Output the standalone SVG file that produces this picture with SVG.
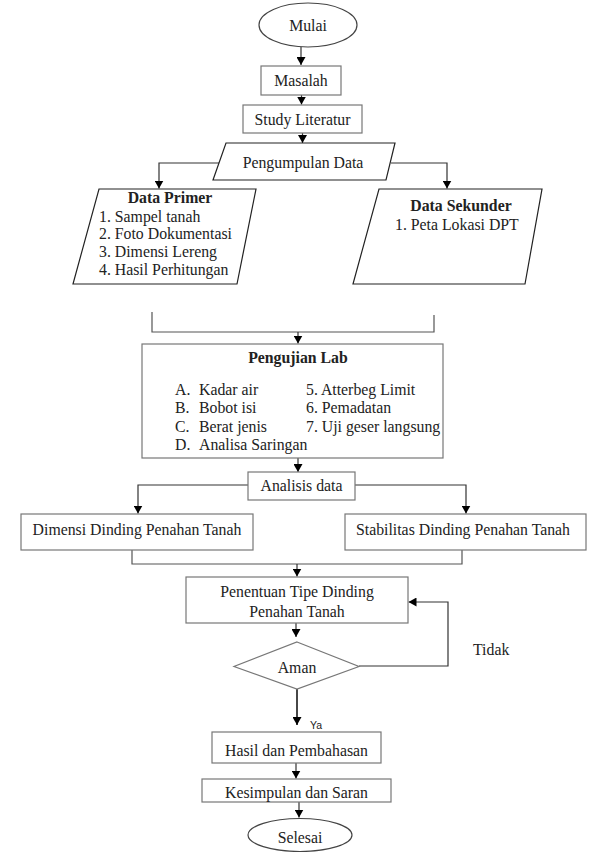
<svg xmlns="http://www.w3.org/2000/svg" width="589" height="852" viewBox="0 0 589 852">
<defs>
<marker id="ah" markerUnits="userSpaceOnUse" markerWidth="8" markerHeight="9" refX="8" refY="4.5" orient="auto">
<path d="M0,0 L8,4.5 L0,9 z" fill="#000"/>
</marker>
<style>
.box{fill:#fff;stroke:#777;stroke-width:1.2}
.par{fill:#fff;stroke:#222;stroke-width:1.2}
.ell{fill:#fff;stroke:#444;stroke-width:1.2}
.t{font-family:"Liberation Serif","Times New Roman",serif;font-size:15.8px;fill:#222}
.c{text-anchor:middle}
.b{font-weight:bold}
.con{fill:none;stroke:#555;stroke-width:1.2}
.arr{fill:none;stroke:#333;stroke-width:1.2;marker-end:url(#ah)}
</style>
</defs>
<rect width="589" height="852" fill="#fff"/>
<g id="connectors">
<line class="arr" x1="301" y1="47" x2="301" y2="65"/>
<line class="arr" x1="301.5" y1="95" x2="301.5" y2="104.5"/>
<line class="arr" x1="302.5" y1="133" x2="302.5" y2="143"/>
<polyline class="arr" points="219,163 159,163 159,188.5"/>
<polyline class="arr" points="391,163 447,163 447,188.5"/>
<polyline class="con" points="152,312 152,332 434,332 434,315"/>
<line class="arr" x1="298" y1="332" x2="298" y2="343.5"/>
<line class="arr" x1="298" y1="458" x2="298" y2="472"/>
<polyline class="arr" points="248,485 138,485 138,513.5"/>
<polyline class="arr" points="355,485 466,485 466,513.5"/>
<polyline class="con" points="132,550 132,564 462,564 462,550"/>
<line class="arr" x1="297" y1="564" x2="297" y2="576.5"/>
<line class="arr" x1="296" y1="623" x2="296" y2="637"/>
<polyline class="arr" points="359,666 448,666 448,602 408.5,602"/>
<line class="arr" x1="297" y1="689" x2="297" y2="725" style="stroke-width:1.8"/>
<line class="arr" x1="296" y1="763" x2="296" y2="778.5"/>
<line class="arr" x1="299" y1="802" x2="299" y2="817.5"/>
<text x="310" y="729" style="font-family:'Liberation Sans',Arial,sans-serif;font-size:10.5px;fill:#222">Ya</text>
<text class="t" x="473" y="655">Tidak</text>
</g>
<g id="mulai">
<ellipse class="ell" cx="308" cy="25" rx="49" ry="22"/>
<text class="t c" x="308" y="31">Mulai</text>
</g>
<g id="masalah">
<rect class="box" x="261" y="66" width="80" height="29"/>
<text class="t c" x="301" y="86">Masalah</text>
</g>
<g id="study">
<rect class="box" x="243" y="105" width="119" height="28"/>
<text class="t c" x="302.5" y="125">Study Literatur</text>
</g>
<g id="pengumpulan">
<polygon class="par" points="226,143 395,143 386,180 213,180"/>
<text class="t c" x="303" y="168">Pengumpulan Data</text>
</g>
<g id="primer">
<polygon class="par" points="99,189 256,189 237,284 73,284"/>
<text class="t c b" x="170" y="203">Data Primer</text>
<text class="t" x="99" y="221.5">1. Sampel tanah</text>
<text class="t" x="99" y="239.3">2. Foto Dokumentasi</text>
<text class="t" x="99" y="257.3">3. Dimensi Lereng</text>
<text class="t" x="99" y="275">4. Hasil Perhitungan</text>
</g>
<g id="sekunder">
<polygon class="par" points="379,189 542,189 525,284 353,284"/>
<text class="t c b" x="461" y="211">Data Sekunder</text>
<text class="t" x="395" y="230">1. Peta Lokasi DPT</text>
</g>
<g id="lab">
<rect class="box" x="142" y="344" width="301" height="114"/>
<text class="t c b" x="298" y="363">Pengujian Lab</text>
<text class="t" x="175" y="395">A.</text><text class="t" x="199" y="395">Kadar air</text>
<text class="t" x="175" y="413.3">B.</text><text class="t" x="199" y="413.3">Bobot isi</text>
<text class="t" x="175" y="431.7">C.</text><text class="t" x="199" y="431.7">Berat jenis</text>
<text class="t" x="175" y="450">D.</text><text class="t" x="199" y="450">Analisa Saringan</text>
<text class="t" x="306" y="395">5. Atterbeg Limit</text>
<text class="t" x="306" y="413.3">6. Pemadatan</text>
<text class="t" x="306" y="431.7">7. Uji geser langsung</text>
</g>
<g id="analisis">
<rect class="box" x="248" y="472" width="107" height="28"/>
<text class="t c" x="301.5" y="491">Analisis data</text>
</g>
<g id="dimensi">
<rect class="box" x="21" y="514" width="232" height="36"/>
<text class="t c" x="137" y="535">Dimensi Dinding Penahan Tanah</text>
</g>
<g id="stabilitas">
<rect class="box" x="345" y="514" width="241" height="36"/>
<text class="t c" x="463" y="535">Stabilitas Dinding Penahan Tanah</text>
</g>
<g id="penentuan">
<rect class="box" x="186" y="577" width="222" height="46"/>
<text class="t c" x="297" y="597">Penentuan Tipe Dinding</text>
<text class="t c" x="297" y="617">Penahan Tanah</text>
</g>
<g id="aman">
<polygon class="box" points="297,642 359,666.5 297,689 234,666.5"/>
<text class="t c" x="297" y="673">Aman</text>
</g>
<g id="hasil">
<rect class="box" x="212" y="732" width="169" height="31"/>
<text class="t c" x="296.5" y="756">Hasil dan Pembahasan</text>
</g>
<g id="kesimpulan">
<rect class="box" x="202" y="779" width="189" height="23"/>
<text class="t c" x="296.5" y="798">Kesimpulan dan Saran</text>
</g>
<g id="selesai">
<ellipse class="ell" cx="300" cy="835" rx="52" ry="16.5"/>
<text class="t c" x="300" y="843">Selesai</text>
</g>
</svg>
